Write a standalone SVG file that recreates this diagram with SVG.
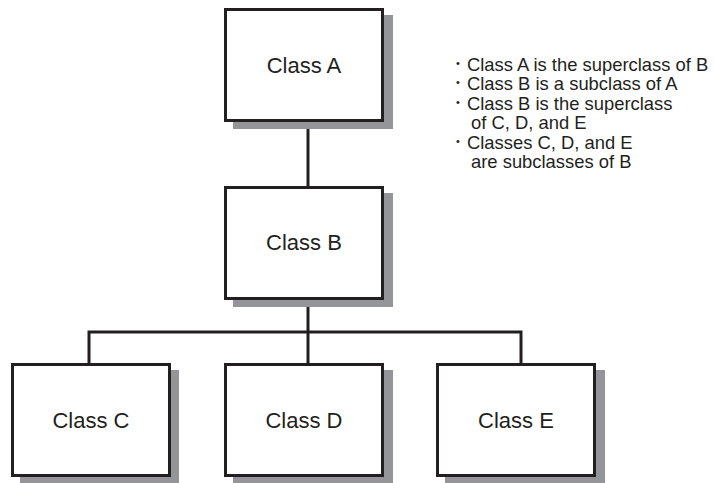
<svg xmlns="http://www.w3.org/2000/svg" width="714" height="483" viewBox="0 0 714 483">
<style>
.shadow{fill:#939598}
.box{fill:#fff;stroke:#231f20;stroke-width:3}
.lbl{font-family:"Liberation Sans",Arial,sans-serif;font-size:22px;fill:#231f20;text-anchor:middle}
.note{font-family:"Liberation Sans",Arial,sans-serif;font-size:18.4px;fill:#231f20}
.bul{font-size:11px}
.conn{fill:none;stroke:#231f20;stroke-width:3}
</style>
<rect width="714" height="483" fill="#fff"/>
<g id="connectors">
<path class="conn" d="M308 122V186M308 299V363M89 363V332H521V363"/>
</g>
<g id="classA">
<rect class="shadow" x="233" y="15" width="160" height="114"/>
<rect class="box" x="225.5" y="9.5" width="157" height="111"/>
<text class="lbl" x="304" y="72.5">Class A</text>
</g>
<g id="classB">
<rect class="shadow" x="233" y="193" width="160" height="114"/>
<rect class="box" x="225.5" y="187.5" width="157" height="111"/>
<text class="lbl" x="304" y="250">Class B</text>
</g>
<g id="classC">
<rect class="shadow" x="20" y="370" width="159" height="113"/>
<rect class="box" x="12.5" y="364.5" width="157" height="111"/>
<text class="lbl" x="91" y="428">Class C</text>
</g>
<g id="classD">
<rect class="shadow" x="233" y="370" width="160" height="113"/>
<rect class="box" x="225.5" y="364.5" width="157" height="111"/>
<text class="lbl" x="304" y="428">Class D</text>
</g>
<g id="classE">
<rect class="shadow" x="445" y="370" width="160" height="113"/>
<rect class="box" x="437.5" y="364.5" width="157" height="111"/>
<text class="lbl" x="516" y="428">Class E</text>
</g>
<g id="notes" class="note">
<text x="456" y="70.5"><tspan class="bul" dy="-4">•</tspan><tspan x="467" dy="4">Class A is the superclass of B</tspan></text>
<text x="456" y="90"><tspan class="bul" dy="-4">•</tspan><tspan x="467" dy="4">Class B is a subclass of A</tspan></text>
<text x="456" y="109.5"><tspan class="bul" dy="-4">•</tspan><tspan x="467" dy="4">Class B is the superclass</tspan></text>
<text x="471" y="129">of C, D, and E</text>
<text x="456" y="148.5"><tspan class="bul" dy="-4">•</tspan><tspan x="467" dy="4">Classes C, D, and E</tspan></text>
<text x="471" y="168">are subclasses of B</text>
</g>
</svg>
